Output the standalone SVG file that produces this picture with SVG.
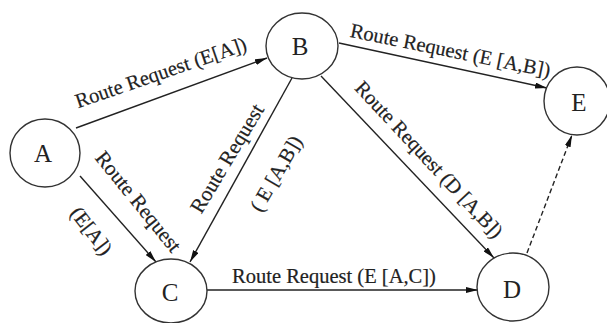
<svg xmlns="http://www.w3.org/2000/svg" width="607" height="323" viewBox="0 0 607 323">
<style>
.node ellipse{fill:#fff;stroke:#333;stroke-width:1.4}
.node text{font-family:"Liberation Serif","Times New Roman",serif;font-size:25px;fill:#222;text-anchor:middle;dominant-baseline:central}
.edge{stroke:#222;stroke-width:1.4;fill:none;marker-end:url(#ah)}
.dash{stroke-dasharray:5 3}
.lbl{font-family:"Liberation Serif","Times New Roman",serif;font-size:20.5px;fill:#222;text-anchor:middle;stroke:#222;stroke-width:0.2}
</style>
<defs>
<marker id="ah" viewBox="0 0 12 6" refX="12" refY="3" markerWidth="12" markerHeight="6" markerUnits="userSpaceOnUse" orient="auto">
<path d="M0,0 L12,3 L0,6 Z" fill="#111"/>
</marker>
</defs>
<rect width="607" height="323" fill="#fff"/>
<g id="connectors">
<line class="edge" x1="76" y1="128" x2="267" y2="58"/>
<line class="edge" x1="339" y1="43" x2="547" y2="88"/>
<line class="edge" x1="321" y1="76" x2="494" y2="258"/>
<line class="edge" x1="292" y1="78" x2="190" y2="262"/>
<line class="edge" x1="80" y1="176" x2="156" y2="262"/>
<line class="edge" x1="207" y1="290" x2="478" y2="290"/>
<line class="edge dash" x1="527" y1="253" x2="572" y2="135"/>
<text class="lbl" transform="translate(163,79) rotate(-19)">Route Request (E[A])</text>
<text class="lbl" transform="translate(449,57) rotate(11.5)">Route Request (E [A,B])</text>
<text class="lbl" transform="translate(424,164) rotate(47)">Route Request (D [A,B])</text>
<text class="lbl" style="font-size:21px" transform="translate(233,162) rotate(-59)">Route Request</text>
<text class="lbl" transform="translate(282,177) rotate(-60)">( E [A,B])</text>
<text class="lbl" style="font-size:21px" transform="translate(133,206) rotate(51)">Route Request</text>
<text class="lbl" transform="translate(86,235) rotate(52)">(E[A])</text>
<text class="lbl" transform="translate(334,283)">Route Request (E [A,C])</text>
</g>
<g id="A" class="node"><ellipse cx="45" cy="153" rx="35" ry="34"/><text x="43" y="153">A</text></g>
<g id="B" class="node"><ellipse cx="302" cy="46" rx="36" ry="33"/><text x="300" y="46">B</text></g>
<g id="C" class="node"><ellipse cx="171" cy="291" rx="36" ry="32"/><text x="170" y="292">C</text></g>
<g id="D" class="node"><ellipse cx="513" cy="287" rx="36" ry="34"/><text x="512" y="289">D</text></g>
<g id="E" class="node"><ellipse cx="577" cy="101" rx="33" ry="34"/><text x="579" y="102">E</text></g>
</svg>
